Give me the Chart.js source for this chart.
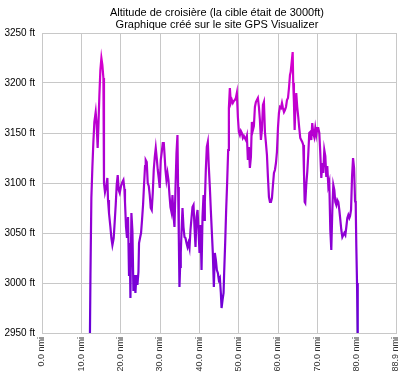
<!DOCTYPE html>
<html><head><meta charset="utf-8">
<script src="https://cdn.jsdelivr.net/npm/chart.js@4/dist/chart.umd.min.js"></script>
<style>html,body{margin:0;padding:0;background:#fff;}canvas{display:block;}</style>
</head><body>
<canvas id="c" width="400" height="380"></canvas>
<script>
const titleLines = [
  'Altitude de croisière (la cible était de 3000ft)',
  'Graphique créé sur le site GPS Visualizer'
];
const distNmi = [
12.19,12.32,12.55,12.81,13.06,13.31,13.65,13.90,14.15,14.33,14.59,14.84,15.10,15.35,15.61,15.76,16.01,16.37,16.62,16.78,
17.03,17.39,17.64,17.90,18.23,18.48,18.74,18.99,19.25,19.50,19.76,20.09,20.44,20.70,20.95,21.10,21.36,21.61,21.87,22.12,
22.30,22.48,22.73,22.99,23.24,23.50,23.75,24.01,24.26,24.52,24.67,24.92,25.18,25.43,25.69,25.94,26.20,26.37,26.63,26.88,
27.14,27.39,27.65,27.90,28.16,28.41,28.67,28.92,29.17,29.43,29.68,29.94,30.19,30.45,30.70,30.96,31.13,31.39,31.64,31.90,
32.15,32.41,32.66,32.92,33.17,33.43,33.68,33.94,34.19,34.44,34.60,34.78,34.95,35.11,35.28,35.46,35.72,35.97,36.23,36.48,
36.74,36.99,37.24,37.50,37.75,38.01,38.26,38.52,38.77,39.03,39.28,39.54,39.79,40.05,40.30,40.56,40.81,41.07,41.22,41.40,
41.65,41.90,42.16,42.41,42.67,42.92,43.18,43.43,43.69,43.94,44.20,44.45,44.71,44.96,45.22,45.47,45.65,45.90,46.16,46.31,
46.57,46.82,47.07,47.33,47.51,47.76,48.01,48.27,48.52,48.78,49.03,49.29,49.54,49.80,50.05,50.31,50.56,50.82,51.07,51.33,
51.58,51.83,52.09,52.34,52.60,52.85,53.11,53.36,53.62,53.87,54.13,54.38,54.64,54.89,55.15,55.40,55.66,55.91,56.17,56.42,
56.68,56.93,57.19,57.44,57.70,57.95,58.21,58.46,58.72,58.97,59.22,59.48,59.73,59.99,60.24,60.50,60.75,61.01,61.26,61.52,
61.77,62.03,62.28,62.54,62.79,63.05,63.22,63.48,63.73,63.87,64.05,64.23,64.38,64.64,64.89,65.15,65.40,65.66,65.91,66.16,
66.42,66.60,66.78,66.93,67.18,67.44,67.69,67.95,68.20,68.46,68.71,68.97,69.22,69.48,69.73,69.99,70.24,70.50,70.75,71.01,
71.26,71.52,71.77,72.03,72.28,72.53,72.79,73.04,73.30,73.55,73.81,74.06,74.32,74.57,74.83,75.08,75.34,75.59,75.85,76.10,
76.36,76.61,76.86,77.12,77.37,77.63,77.88,78.14,78.32,78.57,78.83,79.08,79.34,79.59,79.75,79.91,80.09,80.27
];
const altFt = [
2950,3008,3085,3116,3141,3161,3171,3158,3135,3155,3188,3213,3225,3218,3205,3100,3091,3098,3105,3083,
3070,3056,3045,3038,3045,3061,3078,3098,3108,3093,3090,3097,3101,3103,3094,3081,3056,3045,3066,3008,
3040,2985,3070,3052,2992,3008,2990,3008,2998,3011,3040,3045,3050,3063,3078,3098,3117,3123,3121,3100,
3097,3088,3075,3073,3090,3113,3126,3135,3125,3113,3105,3095,3123,3131,3140,3140,3130,3113,3103,3110,
3103,3088,3076,3071,3088,3068,3056,3095,3130,3148,3096,3046,2996,3016,3030,3050,3075,3056,3046,3045,
3040,3036,3040,3035,3053,3065,3076,3078,3056,3036,3066,3073,3053,3030,3058,3013,3066,3088,3063,3081,
3113,3136,3141,3116,3096,3073,3051,3030,2996,3030,3023,3013,3010,3003,3005,2990,2975,2983,2990,3010,
3040,3073,3100,3133,3175,3195,3180,3183,3180,3182,3183,3185,3190,3166,3151,3148,3152,3150,3145,3147,
3145,3143,3147,3123,3136,3115,3126,3161,3153,3157,3176,3181,3183,3185,3176,3163,3143,3153,3178,3181,
3151,3140,3128,3106,3086,3081,3081,3085,3098,3110,3113,3120,3131,3155,3170,3176,3175,3180,3175,3171,
3173,3176,3183,3185,3195,3208,3211,3221,3231,3200,3181,3153,3171,3190,3176,3166,3155,3145,3143,3141,
3138,3111,3081,3080,3098,3111,3128,3150,3151,3143,3160,3150,3146,3155,3148,3155,3155,3150,3130,3105,
3120,3110,3133,3127,3106,3117,3097,3101,3053,3033,3073,3098,3093,3081,3078,3083,3081,3073,3063,3053,
3046,3048,3050,3048,3056,3065,3068,3065,3067,3073,3107,3125,3115,3082,3080,3037,3000,2950
];
const yMin = 2950, yMax = 3250, yStep = 50;
const xTickValues = [0,10,20,30,40,50,60,70,80,90];
const xTickLabels = ['0.0 nmi','10.0 nmi','20.0 nmi','30.0 nmi','40.0 nmi','50.0 nmi','60.0 nmi','70.0 nmi','80.0 nmi','88.9 nmi'];

const points = distNmi.map((d, i) => ({x: d, y: altFt[i]}));
const FONT = '"Liberation Sans", Arial, sans-serif';

const titlePlugin = {
  id: 'twoLineTitle',
  afterDraw(chart) {
    const {ctx, chartArea} = chart;
    ctx.save();
    ctx.font = '11px ' + FONT;
    ctx.fillStyle = '#000';
    ctx.textAlign = 'center';
    ctx.textBaseline = 'middle';
    const cx = (chartArea.left + chartArea.right) / 2 - 2;
    titleLines.forEach((t, i) => ctx.fillText(t, cx, 12.5 + i * 12.5));
    ctx.restore();
  }
};

new Chart(document.getElementById('c'), {
  type: 'line',
  data: {
    datasets: [{
      data: points,
      borderWidth: 2.2,
      pointRadius: 0,
      tension: 0,
      fill: false,
      borderColor: (context) => {
        const chart = context.chart;
        if (!chart.chartArea) return '#9000d0';
        const y = chart.scales.y;
        const g = chart.ctx.createLinearGradient(0, y.getPixelForValue(yMin), 0, y.getPixelForValue(yMax));
        g.addColorStop(0, '#6400d8');
        g.addColorStop(1, '#e000cc');
        return g;
      }
    }]
  },
  options: {
    responsive: false,
    animation: false,
    devicePixelRatio: 1,
    layout: {padding: {top: 33, right: 4, left: 0, bottom: 0}},
    plugins: {legend: {display: false}, tooltip: {enabled: false}, title: {display: false}},
    scales: {
      x: {
        type: 'linear',
        min: 0, max: 90,
        afterBuildTicks: (axis) => { axis.ticks = xTickValues.map(v => ({value: v})); },
        afterFit: (s) => { s.height = 47; s.paddingLeft = 0; s.paddingRight = 0; },
        grid: {color: '#c8c8c8', drawTicks: false},
        border: {color: '#c8c8c8'},
        ticks: {
          autoSkip: false, maxRotation: 90, minRotation: 90, padding: 4,
          font: {size: 9, family: FONT}, color: '#333',
          callback: (v) => xTickLabels[xTickValues.indexOf(v)]
        }
      },
      y: {
        min: yMin, max: yMax,
        afterFit: (s) => { s.width = 42; s.paddingTop = 0; s.paddingBottom = 0; },
        grid: {color: '#c8c8c8', drawTicks: false},
        border: {color: '#c8c8c8'},
        ticks: {
          stepSize: yStep, padding: 7,
          font: {size: 10, family: FONT}, color: '#000',
          callback: (v) => v + ' ft'
        }
      }
    }
  },
  plugins: [titlePlugin]
});
</script>
</body></html>
